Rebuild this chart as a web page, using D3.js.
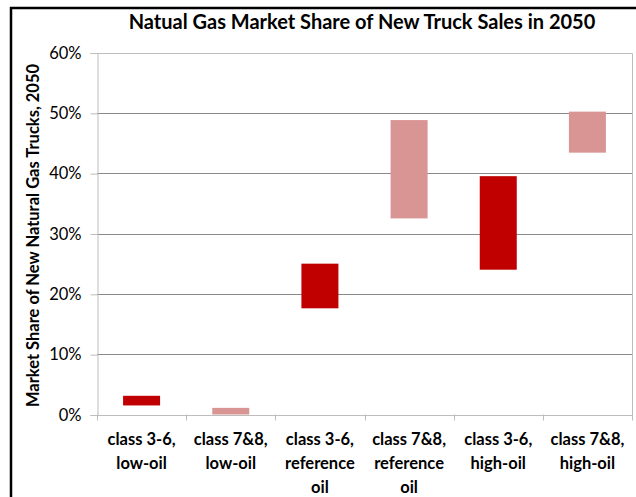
<!DOCTYPE html>
<html>
<head>
<meta charset="utf-8">
<script src="https://cdn.jsdelivr.net/npm/d3@7"></script>
<style>
  body { margin: 0; background: #fff; }
  svg { display: block; }
</style>
</head>
<body>
<div id="chart"></div>
<script>
// categories (multi-line labels) and the low/high ends of each range bar
const categories = [
  ['class 3-6,', 'low-oil'],
  ['class 7&8,', 'low-oil'],
  ['class 3-6,', 'reference', 'oil'],
  ['class 7&8,', 'reference', 'oil'],
  ['class 3-6,', 'high-oil'],
  ['class 7&8,', 'high-oil'],
]
const lowValues = [0.015, 0, 0.176, 0.325, 0.24, 0.434]
const highValues = [0.031, 0.011, 0.25, 0.488, 0.395, 0.502]
const truckClass = ['3-6', '7&8', '3-6', '7&8', '3-6', '7&8']
const yTicks = [0, 0.1, 0.2, 0.3, 0.4, 0.5, 0.6]

const COLORS = { '3-6': '#C00000', '7&8': '#D99594' }
const FONT = 'Lato, "Open Sans", sans-serif'

let width = 636
let height = 497
let margin = { top: 52.5, right: 4, bottom: 82.5, left: 97 }

let svg = d3.select('#chart').append('svg')
  .attr('width', width)
  .attr('height', height)

// outer chart frame (only left and top edges visible in the crop)
svg.append('path')
  .attr('d', `M11,${height + 5}V8H${width + 5}`)
  .attr('fill', 'none')
  .attr('stroke', '#000')
  .attr('stroke-width', 2.5)

let rows = categories.map((c, i) => ({
  key: c.join(' '),
  label: c,
  low: lowValues[i],
  high: highValues[i],
  cls: truckClass[i],
}))

let x = d3.scaleBand()
  .domain(rows.map(d => d.key))
  .range([margin.left, width - margin.right])
  .paddingInner(0.585)
  .paddingOuter(0.2925)

let y = d3.scaleLinear()
  .domain([0, 0.6])
  .range([height - margin.bottom, margin.top])

let plotLeft = x.range()[0]
let plotRight = x.range()[1]

// gridlines
svg.append('g')
  .selectAll('line')
  .data(yTicks.filter(t => t > 0 && t < 0.6))
  .enter()
    .append('line')
    .attr('x1', plotLeft)
    .attr('x2', plotRight)
    .attr('y1', d => Math.round(y(d)) + 0.5)
    .attr('y2', d => Math.round(y(d)) + 0.5)
    .attr('stroke', '#8a8a8a')
    .attr('stroke-width', 1)

// plot area border (top + right)
svg.append('path')
  .attr('d', `M${plotLeft},${Math.round(y(0.6)) + 0.5}H${Math.round(plotRight) + 0.5}V${Math.round(y(0)) + 0.5}`)
  .attr('fill', 'none')
  .attr('stroke', '#bdbdbd')

// y axis
let yAxis = d3.axisLeft(y)
  .tickValues(yTicks)
  .tickFormat(d3.format('.0%'))
  .tickSize(7)
  .tickPadding(9)

let yG = svg.append('g')
  .attr('transform', `translate(${Math.round(plotLeft) + 0.5},0.5)`)
  .call(yAxis)
yG.select('.domain').attr('stroke', '#bdbdbd')
yG.selectAll('.tick line').attr('stroke', '#bdbdbd')
yG.selectAll('.tick text')
  .style('font-family', FONT)
  .style('font-size', '16.5px')
  .attr('fill', '#000')

// x axis line + tick marks on the band boundaries
let step = x.step()
let boundaries = d3.range(categories.length + 1).map(i => plotLeft + i * step)
let xG = svg.append('g')
xG.append('line')
  .attr('x1', plotLeft)
  .attr('x2', plotRight)
  .attr('y1', Math.round(y(0)) + 0.5)
  .attr('y2', Math.round(y(0)) + 0.5)
  .attr('stroke', '#bdbdbd')
xG.selectAll('.xtick')
  .data(boundaries)
  .enter()
    .append('line')
    .attr('class', 'xtick')
    .attr('x1', d => Math.round(d) + 0.5)
    .attr('x2', d => Math.round(d) + 0.5)
    .attr('y1', y(0))
    .attr('y2', y(0) + 6)
    .attr('stroke', '#bdbdbd')

// category labels
xG.selectAll('.xlabel')
  .data(rows)
  .enter()
    .append('text')
    .attr('class', 'xlabel')
    .attr('text-anchor', 'middle')
    .attr('transform', d => `translate(${x(d.key) + x.bandwidth() / 2},${y(0) + 30})`)
    .style('font-family', FONT)
    .style('font-size', '16.5px')
    .style('font-weight', '700')
    .each(function (d) {
      d.label.forEach((line, li) => {
        d3.select(this).append('tspan')
          .attr('x', 0)
          .attr('y', li * 24)
          .text(line)
      })
    })

// range bars
svg.append('g')
  .selectAll('rect')
  .data(rows)
  .enter()
    .append('rect')
    .attr('x', d => x(d.key))
    .attr('width', x.bandwidth())
    .attr('y', d => y(d.high))
    .attr('height', d => y(d.low) - y(d.high))
    .attr('fill', d => COLORS[d.cls])

// title
svg.append('text')
  .attr('x', 362)
  .attr('y', 29)
  .attr('text-anchor', 'middle')
  .style('font-family', FONT)
  .style('font-size', '20px')
  .style('font-weight', '700')
  .text('Natual Gas Market Share of New Truck Sales in 2050')

// y axis title
svg.append('text')
  .attr('transform', `translate(39,${(y(0) + y(0.6)) / 2 + 2}) rotate(-90)`)
  .attr('text-anchor', 'middle')
  .style('font-family', FONT)
  .style('font-size', '16.5px')
  .style('font-weight', '700')
  .text('Market Share of New Natural Gas Trucks, 2050')
</script>
</body>
</html>
